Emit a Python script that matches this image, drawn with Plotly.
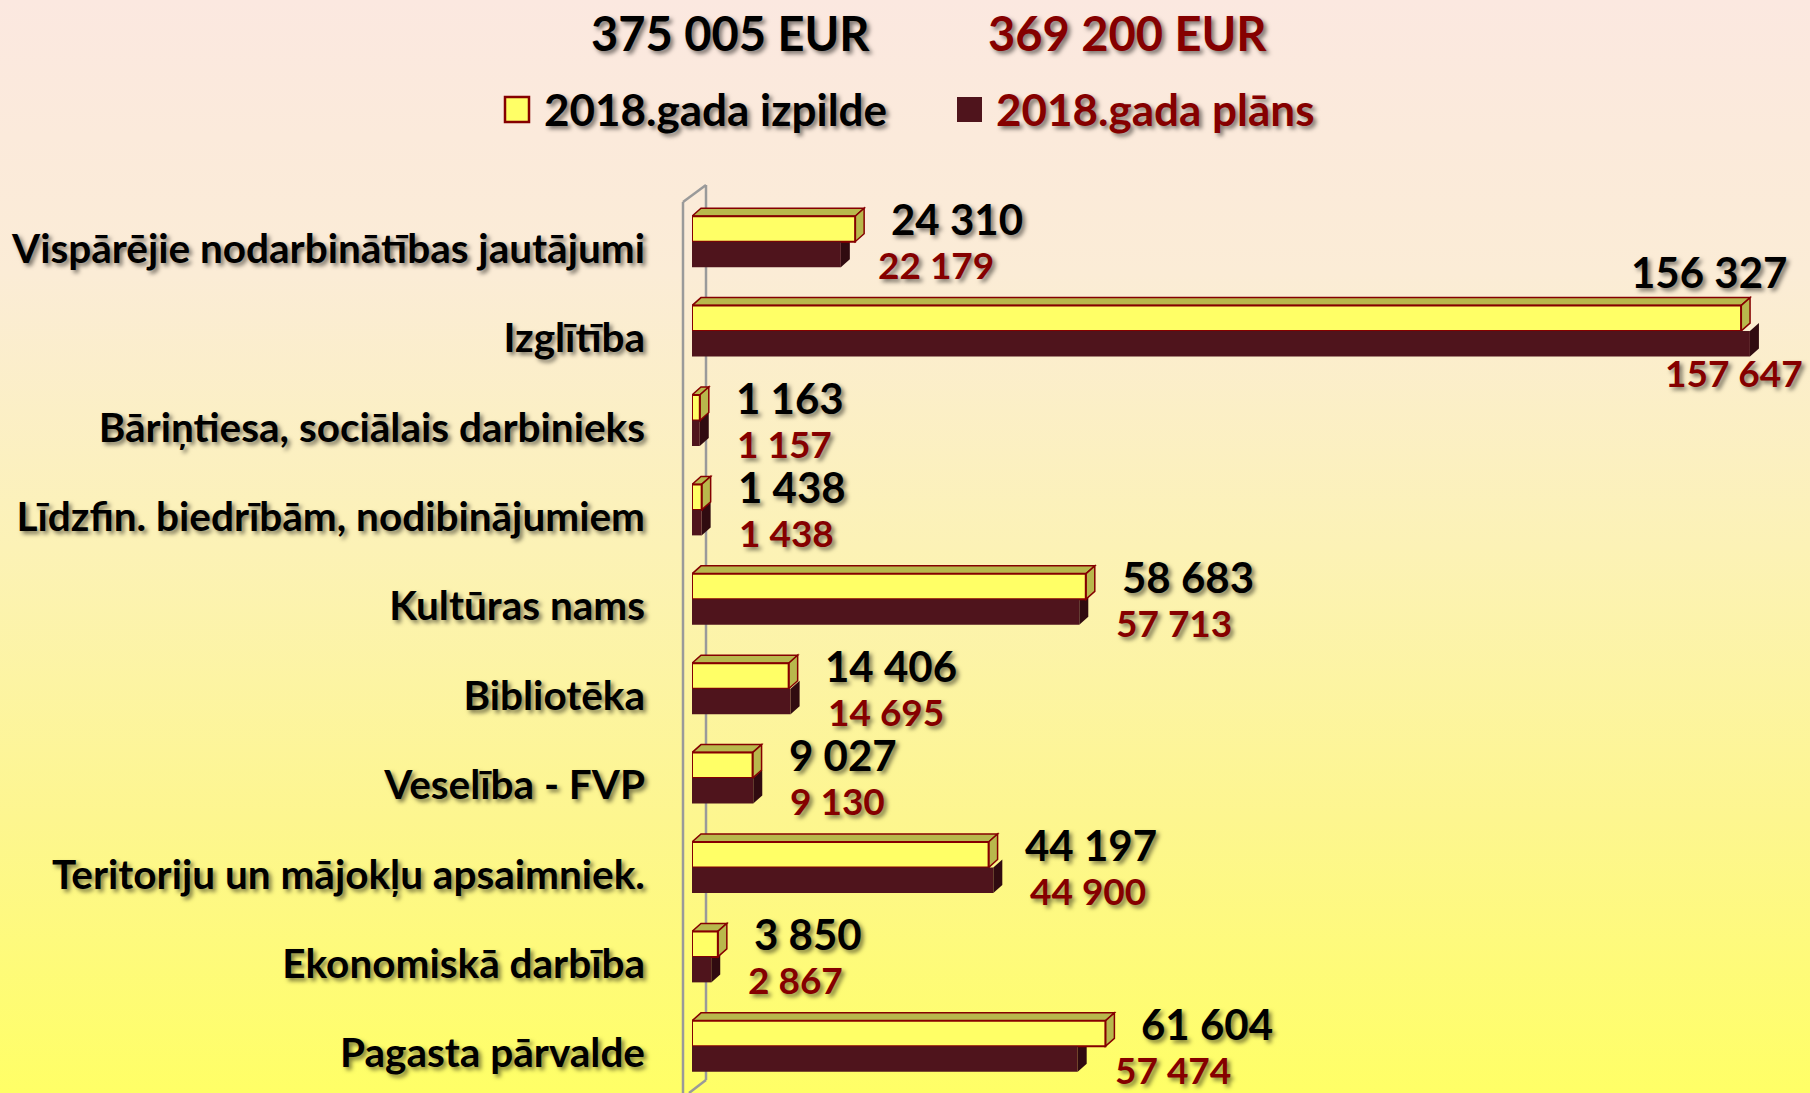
import base64
import plotly.graph_objects as go

categories = [
    "Vispārējie nodarbinātības jautājumi",
    "Izglītība",
    "Bāriņtiesa, sociālais darbinieks",
    "Līdzfin. biedrībām, nodibinājumiem",
    "Kultūras nams",
    "Bibliotēka",
    "Veselība - FVP",
    "Teritoriju un mājokļu apsaimniek.",
    "Ekonomiskā darbība",
    "Pagasta pārvalde",
]
izpilde_2018 = [24310, 156327, 1163, 1438, 58683, 14406, 9027, 44197, 3850, 61604]
plans_2018 = [22179, 157647, 1157, 1438, 57713, 14695, 9130, 44900, 2867, 57474]
series_names = ["2018.gada izpilde", "2018.gada plāns"]

# page / plot geometry (pixels)
W, H = 1810, 1093
M_L, M_T, M_B, M_R = 692, 197, 2, 0
PW = W - M_L - M_R
PH = H - M_T - M_B
X_MAX = 166600
BAR_W = 0.285
DEPTH_X, DEPTH_Y = 9, 8

FONT = "Lato, Roboto, sans-serif"
DARK_RED = "#850000"
YELLOW = "#ffff66"
YELLOW_FACE = "#b8b84c"
PLUM = "#4f141c"
PLUM_FACE = "#300b10"
SHADOW = "3px 3px 4px rgba(0,0,0,0.5)"


def fmt(v):
    return f"{v:,}".replace(",", " ")


def dx_units(px):
    return px * X_MAX / PW


def dy_units(px):
    return px * len(categories) / PH


def paper_x(px):
    return (px - M_L) / PW


def paper_y(px):
    return (H - M_B - px) / PH


def _gradient_image():
    svg = (
        '<svg xmlns="http://www.w3.org/2000/svg" width="100" height="100" preserveAspectRatio="none">'
        '<defs><linearGradient id="g" x1="0" y1="0" x2="0" y2="1">'
        '<stop offset="0" stop-color="#fbe8e0"/>'
        '<stop offset="0.25" stop-color="#fbecd6"/>'
        '<stop offset="0.5" stop-color="#fcf2b6"/>'
        '<stop offset="0.75" stop-color="#fdf68f"/>'
        '<stop offset="1" stop-color="#ffff66"/>'
        '</linearGradient></defs>'
        '<rect width="100" height="100" fill="url(#g)"/></svg>'
    )
    src = "data:image/svg+xml;base64," + base64.b64encode(svg.encode()).decode()
    return dict(
        source=src, xref="paper", yref="paper",
        x=paper_x(0), y=paper_y(0), sizex=W / PW, sizey=H / PH,
        xanchor="left", yanchor="top", sizing="stretch", layer="below",
    )


def _bar_faces():
    shapes = []
    ddx, ddy = dx_units(DEPTH_X), dy_units(DEPTH_Y)
    for i, v in enumerate(plans_2018):
        top, bot = i, i + BAR_W
        shapes.append(dict(
            type="path", layer="below", xref="x", yref="y",
            path=f"M {v},{top} L {v + ddx},{top - ddy} L {v + ddx},{bot - ddy} L {v},{bot} Z",
            fillcolor=PLUM_FACE, line=dict(width=0),
        ))
    for i, v in enumerate(izpilde_2018):
        top, bot = i - BAR_W, i
        shapes.append(dict(
            type="path", layer="below", xref="x", yref="y",
            path=f"M 0,{top} L {v},{top} L {v + ddx},{top - ddy} L {ddx},{top - ddy} Z",
            fillcolor=YELLOW_FACE, line=dict(width=1.5, color=DARK_RED),
        ))
        shapes.append(dict(
            type="path", layer="below", xref="x", yref="y",
            path=f"M {v},{top} L {v + ddx},{top - ddy} L {v + ddx},{bot - ddy} L {v},{bot} Z",
            fillcolor=YELLOW_FACE, line=dict(width=1.5, color=DARK_RED),
        ))
    return shapes


def _wall():
    grey = dict(color="#9a9a9a", width=2.5)
    pts = [
        ((683, 202), (683, 1093)),
        ((706, 185), (706, 1080)),
        ((683, 202), (706, 185)),
        ((706, 1080), (689, 1093)),
    ]
    return [
        dict(type="line", layer="below", xref="paper", yref="paper",
             x0=paper_x(a[0]), y0=paper_y(a[1]), x1=paper_x(b[0]), y1=paper_y(b[1]), line=grey)
        for a, b in pts
    ]


def _legend():
    shapes = [
        dict(type="rect", xref="paper", yref="paper",
             x0=paper_x(505), x1=paper_x(529), y0=paper_y(122), y1=paper_y(97),
             fillcolor=YELLOW, line=dict(color=DARK_RED, width=2.5)),
        dict(type="rect", xref="paper", yref="paper",
             x0=paper_x(957), x1=paper_x(982), y0=paper_y(122), y1=paper_y(97),
             fillcolor=PLUM, line=dict(width=0)),
    ]
    anns = [
        dict(text=series_names[0], x=paper_x(542), y=paper_y(109), xanchor="left",
             font=dict(color="black", size=44)),
        dict(text=series_names[1], x=paper_x(994), y=paper_y(109), xanchor="left",
             font=dict(color=DARK_RED, size=44)),
        dict(text=f"{fmt(sum(izpilde_2018))} EUR", x=paper_x(730), y=paper_y(33),
             xanchor="center", font=dict(color="black", size=47)),
        dict(text=f"{fmt(sum(plans_2018))} EUR", x=paper_x(1127), y=paper_y(33),
             xanchor="center", font=dict(color=DARK_RED, size=47)),
    ]
    for a in anns:
        a.update(xref="paper", yref="paper", yanchor="middle", showarrow=False)
        a["font"].update(family=FONT, weight="bold", shadow=SHADOW)
    return shapes, anns


def _value_labels():
    anns = []
    for i, (v, p) in enumerate(zip(izpilde_2018, plans_2018)):
        wide = v / X_MAX > 0.85
        anns.append(dict(
            text=fmt(v), x=v, y=i - BAR_W / 2,
            xanchor="right" if wide else "left",
            xshift=47 if wide else 35, yshift=46 if wide else 10,
            font=dict(color="black", size=42),
        ))
        wide = p / X_MAX > 0.85
        anns.append(dict(
            text=fmt(p), x=p, y=i + BAR_W / 2,
            xanchor="right" if wide else "left",
            xshift=54 if wide else 36, yshift=-29 if wide else -10,
            font=dict(color=DARK_RED, size=37),
        ))
    for a in anns:
        a.update(xref="x", yref="y", yanchor="middle", showarrow=False, borderpad=0)
        a["font"].update(family=FONT, weight="bold", shadow=SHADOW)
    return anns


idx = list(range(len(categories)))

fig = go.Figure()
fig.add_trace(go.Bar(
    y=idx, x=izpilde_2018, orientation="h", name=series_names[0],
    width=BAR_W, offset=-BAR_W,
    marker=dict(color=YELLOW, line=dict(color=DARK_RED, width=2)),
    hoverinfo="x+name",
))
fig.add_trace(go.Bar(
    y=idx, x=plans_2018, orientation="h", name=series_names[1],
    width=BAR_W, offset=0,
    marker=dict(color=PLUM, line=dict(width=0)),
    hoverinfo="x+name",
))

legend_shapes, legend_anns = _legend()

fig.update_layout(
    width=W,
    height=H,
    barmode="overlay",
    showlegend=False,
    margin=dict(l=M_L, r=M_R, t=M_T, b=M_B, pad=0),
    paper_bgcolor="#fcf2c0",
    plot_bgcolor="rgba(0,0,0,0)",
    font=dict(family=FONT),
    xaxis=dict(range=[0, X_MAX], visible=False, fixedrange=True),
    yaxis=dict(
        range=[len(categories) - 0.5, -0.5],
        tickvals=idx,
        ticktext=categories,
        showgrid=False,
        zeroline=False,
        showline=False,
        ticks="",
        ticklabelstandoff=46,
        ticklabelshift=-7,
        tickfont=dict(family=FONT, size=40.5, color="black", weight="bold", shadow=SHADOW),
        fixedrange=True,
    ),
    images=[_gradient_image()],
    shapes=_wall() + _bar_faces() + legend_shapes,
    annotations=_value_labels() + legend_anns,
)

fig.write_html(
    "out.html",
    config={"displayModeBar": False},
    post_script="document.body.style.margin='0';",
)
